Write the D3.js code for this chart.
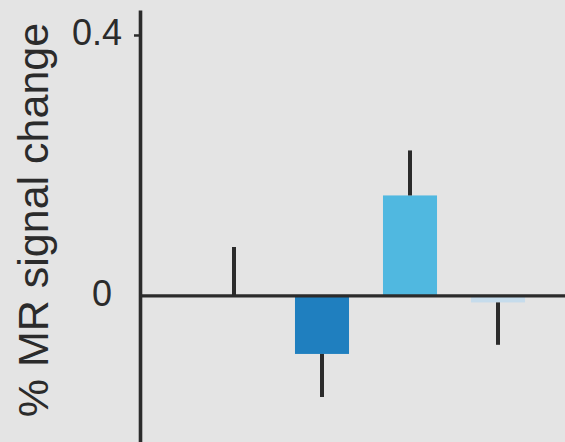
<!DOCTYPE html>
<html>
<head>
<meta charset="utf-8">
<script src="https://cdn.jsdelivr.net/npm/d3@7"></script>
<style>
  html, body { margin: 0; padding: 0; background: #e4e4e4; }
  svg { display: block; font-family: "Liberation Sans", Arial, sans-serif; }
</style>
</head>
<body>
<svg id="chart" width="565" height="442"></svg>
<script>
// Conditions, mean % signal change and one-sided error (SEM)
const conditions = ["c1", "c2", "c3", "c4"];
const means = [0, -0.089, 0.154, -0.01];
const errors = [0.075, 0.066, 0.069, 0.065];
const barColors = ["#1b4f8a", "#1f7fbf", "#50b8e0", "#c6dcec"];
const tickValues = [0, 0.4];
const tickLabels = ["0", "0.4"];

const W = 565, H = 442;
const ink = "#2b2b2b";
const svg = d3.select("#chart");

svg.append("rect").attr("width", W).attr("height", H).attr("fill", "#e4e4e4");

const axisX = 140;

const x = d3.scaleBand()
  .domain(conditions)
  .range([190, 542])
  .paddingInner(0.386)
  .paddingOuter(0.193);

const y = d3.scaleLinear()
  .domain([-0.224, 0.4383])
  .range([442, 10]);

const rows = conditions.map((c, i) => ({ c, v: means[i], e: errors[i], col: barColors[i] }));

// bars
svg.append("g").selectAll("rect")
  .data(rows)
  .join("rect")
  .attr("x", d => x(d.c))
  .attr("width", x.bandwidth())
  .attr("y", d => y(Math.max(0, d.v)))
  .attr("height", d => Math.abs(y(d.v) - y(0)))
  .attr("fill", d => d.col);

// one-sided error bars, pointing away from zero
svg.append("g").selectAll("line")
  .data(rows)
  .join("line")
  .attr("x1", d => x(d.c) + x.bandwidth() / 2)
  .attr("x2", d => x(d.c) + x.bandwidth() / 2)
  .attr("y1", d => y(d.v))
  .attr("y2", d => y(d.v >= 0 ? d.v + d.e : d.v - d.e))
  .attr("stroke", ink)
  .attr("stroke-width", 4);

// zero baseline
svg.append("line")
  .attr("x1", axisX).attr("x2", W)
  .attr("y1", y(0)).attr("y2", y(0))
  .attr("stroke", ink).attr("stroke-width", 3.4);

// y axis
const yAxis = d3.axisLeft(y)
  .tickValues(tickValues)
  .tickFormat((d, i) => tickLabels[i])
  .tickSizeInner(6)
  .tickSizeOuter(0)
  .tickPadding(12);

const gy = svg.append("g")
  .attr("transform", `translate(${axisX},0)`)
  .call(yAxis);

gy.select(".domain").attr("stroke", ink).attr("stroke-width", 3.6);
gy.selectAll(".tick line")
  .attr("stroke", ink).attr("stroke-width", 2.5)
  .attr("x2", d => d === 0 ? 0 : -6);
gy.selectAll(".tick text")
  .attr("fill", ink)
  .attr("font-size", 36)
  .attr("font-family", "'Liberation Sans', Arial, sans-serif")
  .attr("x", d => d === 0 ? -28 : -18)
  .attr("dy", "0.26em");

// y axis title
svg.append("text")
  .attr("transform", `translate(48,${220}) rotate(-90)`)
  .attr("text-anchor", "middle")
  .attr("fill", ink)
  .attr("font-size", 43)
  .text("% MR signal change");
</script>
</body>
</html>
